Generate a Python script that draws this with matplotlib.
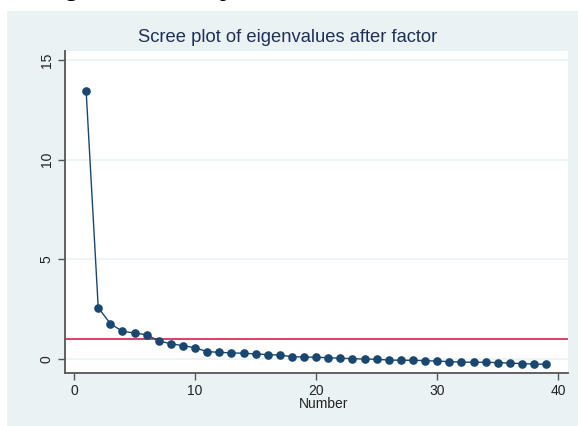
import matplotlib
matplotlib.use("Agg")
import matplotlib.pyplot as plt
from matplotlib.patches import Rectangle

"""Scree plot of eigenvalues after factor analysis (Stata s2color look)"""

# factor numbers and eigenvalues
numbers = list(range(1, 40))
eigenvalues = [
    13.45, 2.56, 1.76, 1.37, 1.29, 1.20, 0.89, 0.75, 0.65, 0.55,
    0.35, 0.32, 0.29, 0.27, 0.24, 0.20, 0.18, 0.10, 0.08, 0.07,
    0.05, 0.02, 0.00, -0.02, -0.03, -0.07, -0.08, -0.08, -0.10, -0.12,
    -0.15, -0.17, -0.18, -0.18, -0.20, -0.22, -0.25, -0.27, -0.28,
]
x_ticks = [0, 10, 20, 30, 40]
y_ticks = [0, 5, 10, 15]
cutoff = 1

navy = "#1A476F"
bluish_gray = "#EAF2F3"
axis_gray = "#555555"

plt.rcParams["font.family"] = ["Liberation Sans", "DejaVu Sans"]

fig = plt.figure(figsize=(5.78, 4.26), dpi=100)
fig.patch.set_facecolor("white")

# Stata graph region background
fig.patches.append(Rectangle((7 / 578, 0), 1, 415 / 426, transform=fig.transFigure,
                             facecolor=bluish_gray, edgecolor="none", zorder=-10))

# cropped caption from the page above the graph (only descenders show)
fig.text(43 / 578, 1 + 4 / 426, "Eigenvalue scree plot", family="Liberation Serif",
         fontsize=18, va="baseline", ha="left", color="black")

ax = fig.add_axes([64.7 / 578, 53 / 426, (568 - 64.7) / 578, (374 - 52) / 426])
ax.set_facecolor("white")

ax.axhline(cutoff, color="#D8325C", lw=1.3, zorder=2)
ax.plot(numbers, eigenvalues, color=navy, lw=1.0, marker="o", markersize=5.2,
        markerfacecolor=navy, markeredgecolor=navy, zorder=3)

ax.set_xlim(-0.77, 40.8)
ax.set_ylim(-0.72, 15.45)
ax.set_xticks(x_ticks)
ax.set_yticks(y_ticks)
ax.grid(axis="y", color=bluish_gray, lw=1.2, zorder=1)
ax.set_axisbelow(True)

for side in ["top", "right"]:
    ax.spines[side].set_visible(False)
for side in ["left", "bottom"]:
    ax.spines[side].set_color(axis_gray)
    ax.spines[side].set_linewidth(1.3)

ax.tick_params(axis="both", colors=axis_gray, length=5, width=1.0, labelsize=10,
               labelcolor="#222222", pad=3)
for lbl in ax.get_yticklabels():
    lbl.set_rotation(90)
    lbl.set_va("center")

ax.set_xlabel("Number", fontsize=10, color="#222222")
ax.xaxis.set_label_coords((324 - 64.7) / (568 - 64.7), -0.076)
ax.xaxis.label.set_va("top")
fig.text(288 / 578, 1 - 38 / 426, "Scree plot of eigenvalues after factor",
         fontsize=13.2, color="#1F2F55", ha="center", va="center")

fig.savefig("out.png", dpi=100, facecolor=fig.get_facecolor())
